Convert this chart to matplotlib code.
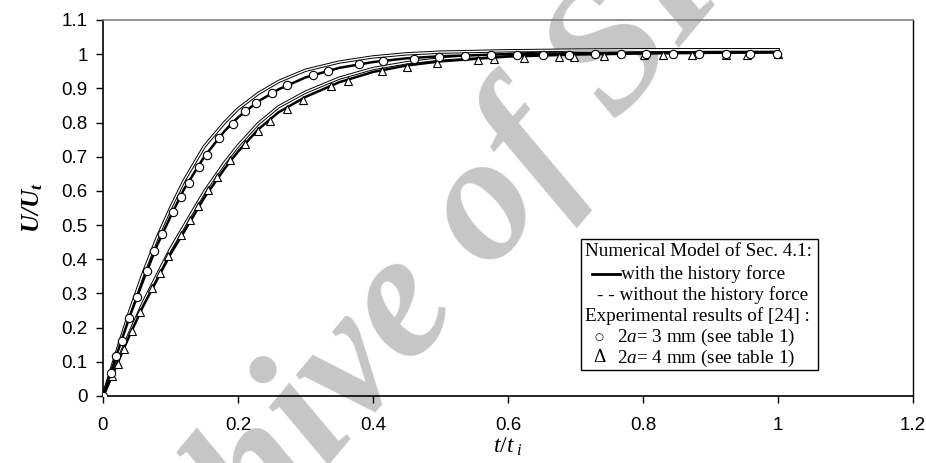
import matplotlib
matplotlib.use("Agg")
import matplotlib.pyplot as plt
from matplotlib.patches import Rectangle
from matplotlib.lines import Line2D

plt.rcParams["mathtext.fontset"] = "custom"
plt.rcParams["mathtext.rm"] = "Liberation Serif"
plt.rcParams["mathtext.it"] = "Liberation Serif:italic"
plt.rcParams["mathtext.bf"] = "Liberation Serif:italic:bold"

# experimental points, 2a = 3 mm (circles)
t_3mm = [0, 0.012, 0.019, 0.028, 0.038, 0.050, 0.065, 0.076, 0.088, 0.103,
         0.115, 0.127, 0.142, 0.154, 0.172, 0.192, 0.211, 0.226, 0.250, 0.272,
         0.311, 0.334, 0.379, 0.415, 0.460, 0.498, 0.537, 0.575, 0.613, 0.652,
         0.690, 0.729, 0.767, 0.805, 0.844, 0.883, 0.923, 0.959, 0.999]
u_3mm = [0, 0.068, 0.117, 0.162, 0.227, 0.289, 0.367, 0.423, 0.473, 0.538,
         0.583, 0.624, 0.670, 0.705, 0.756, 0.797, 0.833, 0.858, 0.887, 0.910,
         0.939, 0.951, 0.971, 0.980, 0.987, 0.992, 0.996, 0.997, 0.998, 0.999,
         0.999, 1.0, 1.0, 1.0, 1.0, 1.0, 1.0, 1.0, 1.0]

# experimental points, 2a = 4 mm (triangles)
t_4mm = [0, 0.014, 0.022, 0.031, 0.043, 0.055, 0.072, 0.084, 0.097, 0.115,
         0.129, 0.141, 0.156, 0.169, 0.188, 0.210, 0.229, 0.248, 0.272, 0.296,
         0.338, 0.363, 0.414, 0.450, 0.495, 0.556, 0.579, 0.623, 0.676, 0.698,
         0.742, 0.802, 0.830, 0.873, 0.923, 0.954, 1.0]
u_4mm = [0, 0.058, 0.095, 0.137, 0.191, 0.247, 0.316, 0.361, 0.410, 0.472,
         0.515, 0.556, 0.604, 0.641, 0.690, 0.737, 0.776, 0.805, 0.841, 0.867,
         0.906, 0.922, 0.951, 0.963, 0.975, 0.984, 0.986, 0.990, 0.992, 0.993,
         0.995, 0.997, 0.998, 0.998, 0.999, 0.999, 1.0]

# numerical model curves
t_model = [0, 0.02, 0.04, 0.06, 0.08, 0.10, 0.12, 0.15, 0.18, 0.20, 0.23,
           0.26, 0.30, 0.35, 0.40, 0.45, 0.50, 0.60, 0.70, 0.80, 0.90, 1.0]
hist_3mm = [0, 0.12, 0.235, 0.34, 0.44, 0.525, 0.605, 0.70, 0.775, 0.815, 0.862,
            0.897, 0.932, 0.960, 0.977, 0.988, 0.994, 1.0, 1.003, 1.005, 1.006, 1.006]
nohist_3mm = [0, 0.127, 0.25, 0.362, 0.462, 0.55, 0.63, 0.73, 0.80, 0.84, 0.885,
              0.92, 0.953, 0.977, 0.992, 1.001, 1.006, 1.010, 1.012, 1.013, 1.013, 1.013]
hist_4mm = [0, 0.09, 0.18, 0.265, 0.34, 0.415, 0.48, 0.58, 0.665, 0.715, 0.78,
            0.83, 0.875, 0.918, 0.948, 0.967, 0.979, 0.993, 0.999, 1.002, 1.004, 1.005]
nohist_4mm = [0, 0.094, 0.187, 0.275, 0.353, 0.43, 0.497, 0.597, 0.682, 0.732, 0.797,
              0.846, 0.889, 0.93, 0.958, 0.975, 0.986, 0.999, 1.006, 1.010, 1.012, 1.013]

x_ticks = [0, 0.2, 0.4, 0.6, 0.8, 1, 1.2]
y_ticks = [0, 0.1, 0.2, 0.3, 0.4, 0.5, 0.6, 0.7, 0.8, 0.9, 1, 1.1]

W, H = 926, 463
fig = plt.figure(figsize=(W / 100, H / 100), dpi=100, facecolor="white")
ax = fig.add_axes([103 / W, 1 - 396 / H, 810 / W, 376 / H])
ax.set_facecolor("none")

# faint watermark behind everything
fig.text(418 / W, 1 - 300 / H, "Archive of SID", rotation=50,
         fontsize=130, family="Liberation Serif", weight="bold", style="italic",
         color="#c6c6c6", ha="center", va="center", zorder=-5)

# model curves: without history drawn as a hollow double line
for curve in (nohist_3mm, nohist_4mm):
    ax.plot(t_model, curve, color="black", lw=2.4, zorder=2)
    ax.plot(t_model, curve, color="white", lw=1.0, zorder=2.1)
for curve in (hist_3mm, hist_4mm):
    ax.plot(t_model, curve, color="black", lw=1.8, zorder=3)

ax.plot(t_4mm, u_4mm, ls="none", marker="^", ms=5.5, mfc="white",
        mec="black", mew=0.8, zorder=4)
ax.plot(t_3mm, u_3mm, ls="none", marker="o", ms=6, mfc="white",
        mec="black", mew=0.8, zorder=5)

ax.set_xlim(0, 1.2)
ax.set_ylim(0, 1.1)
ax.set_xticks(x_ticks)
ax.set_xticklabels(["0", "0.2", "0.4", "0.6", "0.8", "1", "1.2"])
ax.set_yticks(y_ticks)
ax.set_yticklabels(["0", "0.1", "0.2", "0.3", "0.4", "0.5", "0.6", "0.7",
                    "0.8", "0.9", "1", "1.1"])
ax.tick_params(direction="out", length=5, width=1, labelsize=13.5, pad=6)
ax.tick_params(axis="x", pad=10)
for lab in ax.get_xticklabels() + ax.get_yticklabels():
    lab.set_family("Liberation Sans")

ax.spines["left"].set_linewidth(1.2)
ax.spines["bottom"].set_linewidth(1.2)
ax.spines["right"].set_linewidth(1.0)
ax.spines["top"].set_color("#7f7f7f")
ax.spines["top"].set_linewidth(1.2)

ax.set_ylabel(r"$\mathbf{U/U_t}$", fontsize=18, labelpad=12)
ax.set_xlabel(r"$t/t_{\ i}$", fontsize=17, labelpad=0)


# legend box built by hand (pixel layout of the original)
def fx(px):
    return px / W


def fy(py):
    return 1 - py / H


fig.patches.append(Rectangle((fx(581), fy(370)), fx(818) - fx(581), fy(239) - fy(370),
                             transform=fig.transFigure, facecolor="white",
                             edgecolor="black", lw=1.0, zorder=6))
leg_font = dict(family="Liberation Serif", fontsize=13.8, va="center", zorder=7)
fig.text(fx(585), fy(252), "Numerical Model of Sec. 4.1:", **leg_font)
fig.lines.append(Line2D([fx(592), fx(620)], [fy(274), fy(274)], color="black",
                        lw=2, transform=fig.transFigure, zorder=7))
fig.text(fx(621), fy(274), "with the history force", **leg_font)
fig.text(fx(597), fy(295), "- - without the history force", **leg_font)
fig.text(fx(585), fy(316), "Experimental results of [24] :", **leg_font)
fig.text(fx(594), fy(337), "\u25cb", family="DejaVu Sans", fontsize=7.5,
         va="center", zorder=7)
fig.text(fx(617), fy(337), r"$\mathit{2a}$= 3 mm (see table 1)", **leg_font)
fig.text(fx(593), fy(358), "\u0394", **leg_font)
fig.text(fx(617), fy(358), r"$\mathit{2a}$= 4 mm (see table 1)", **leg_font)

fig.savefig("out.png", dpi=100, facecolor="white")
